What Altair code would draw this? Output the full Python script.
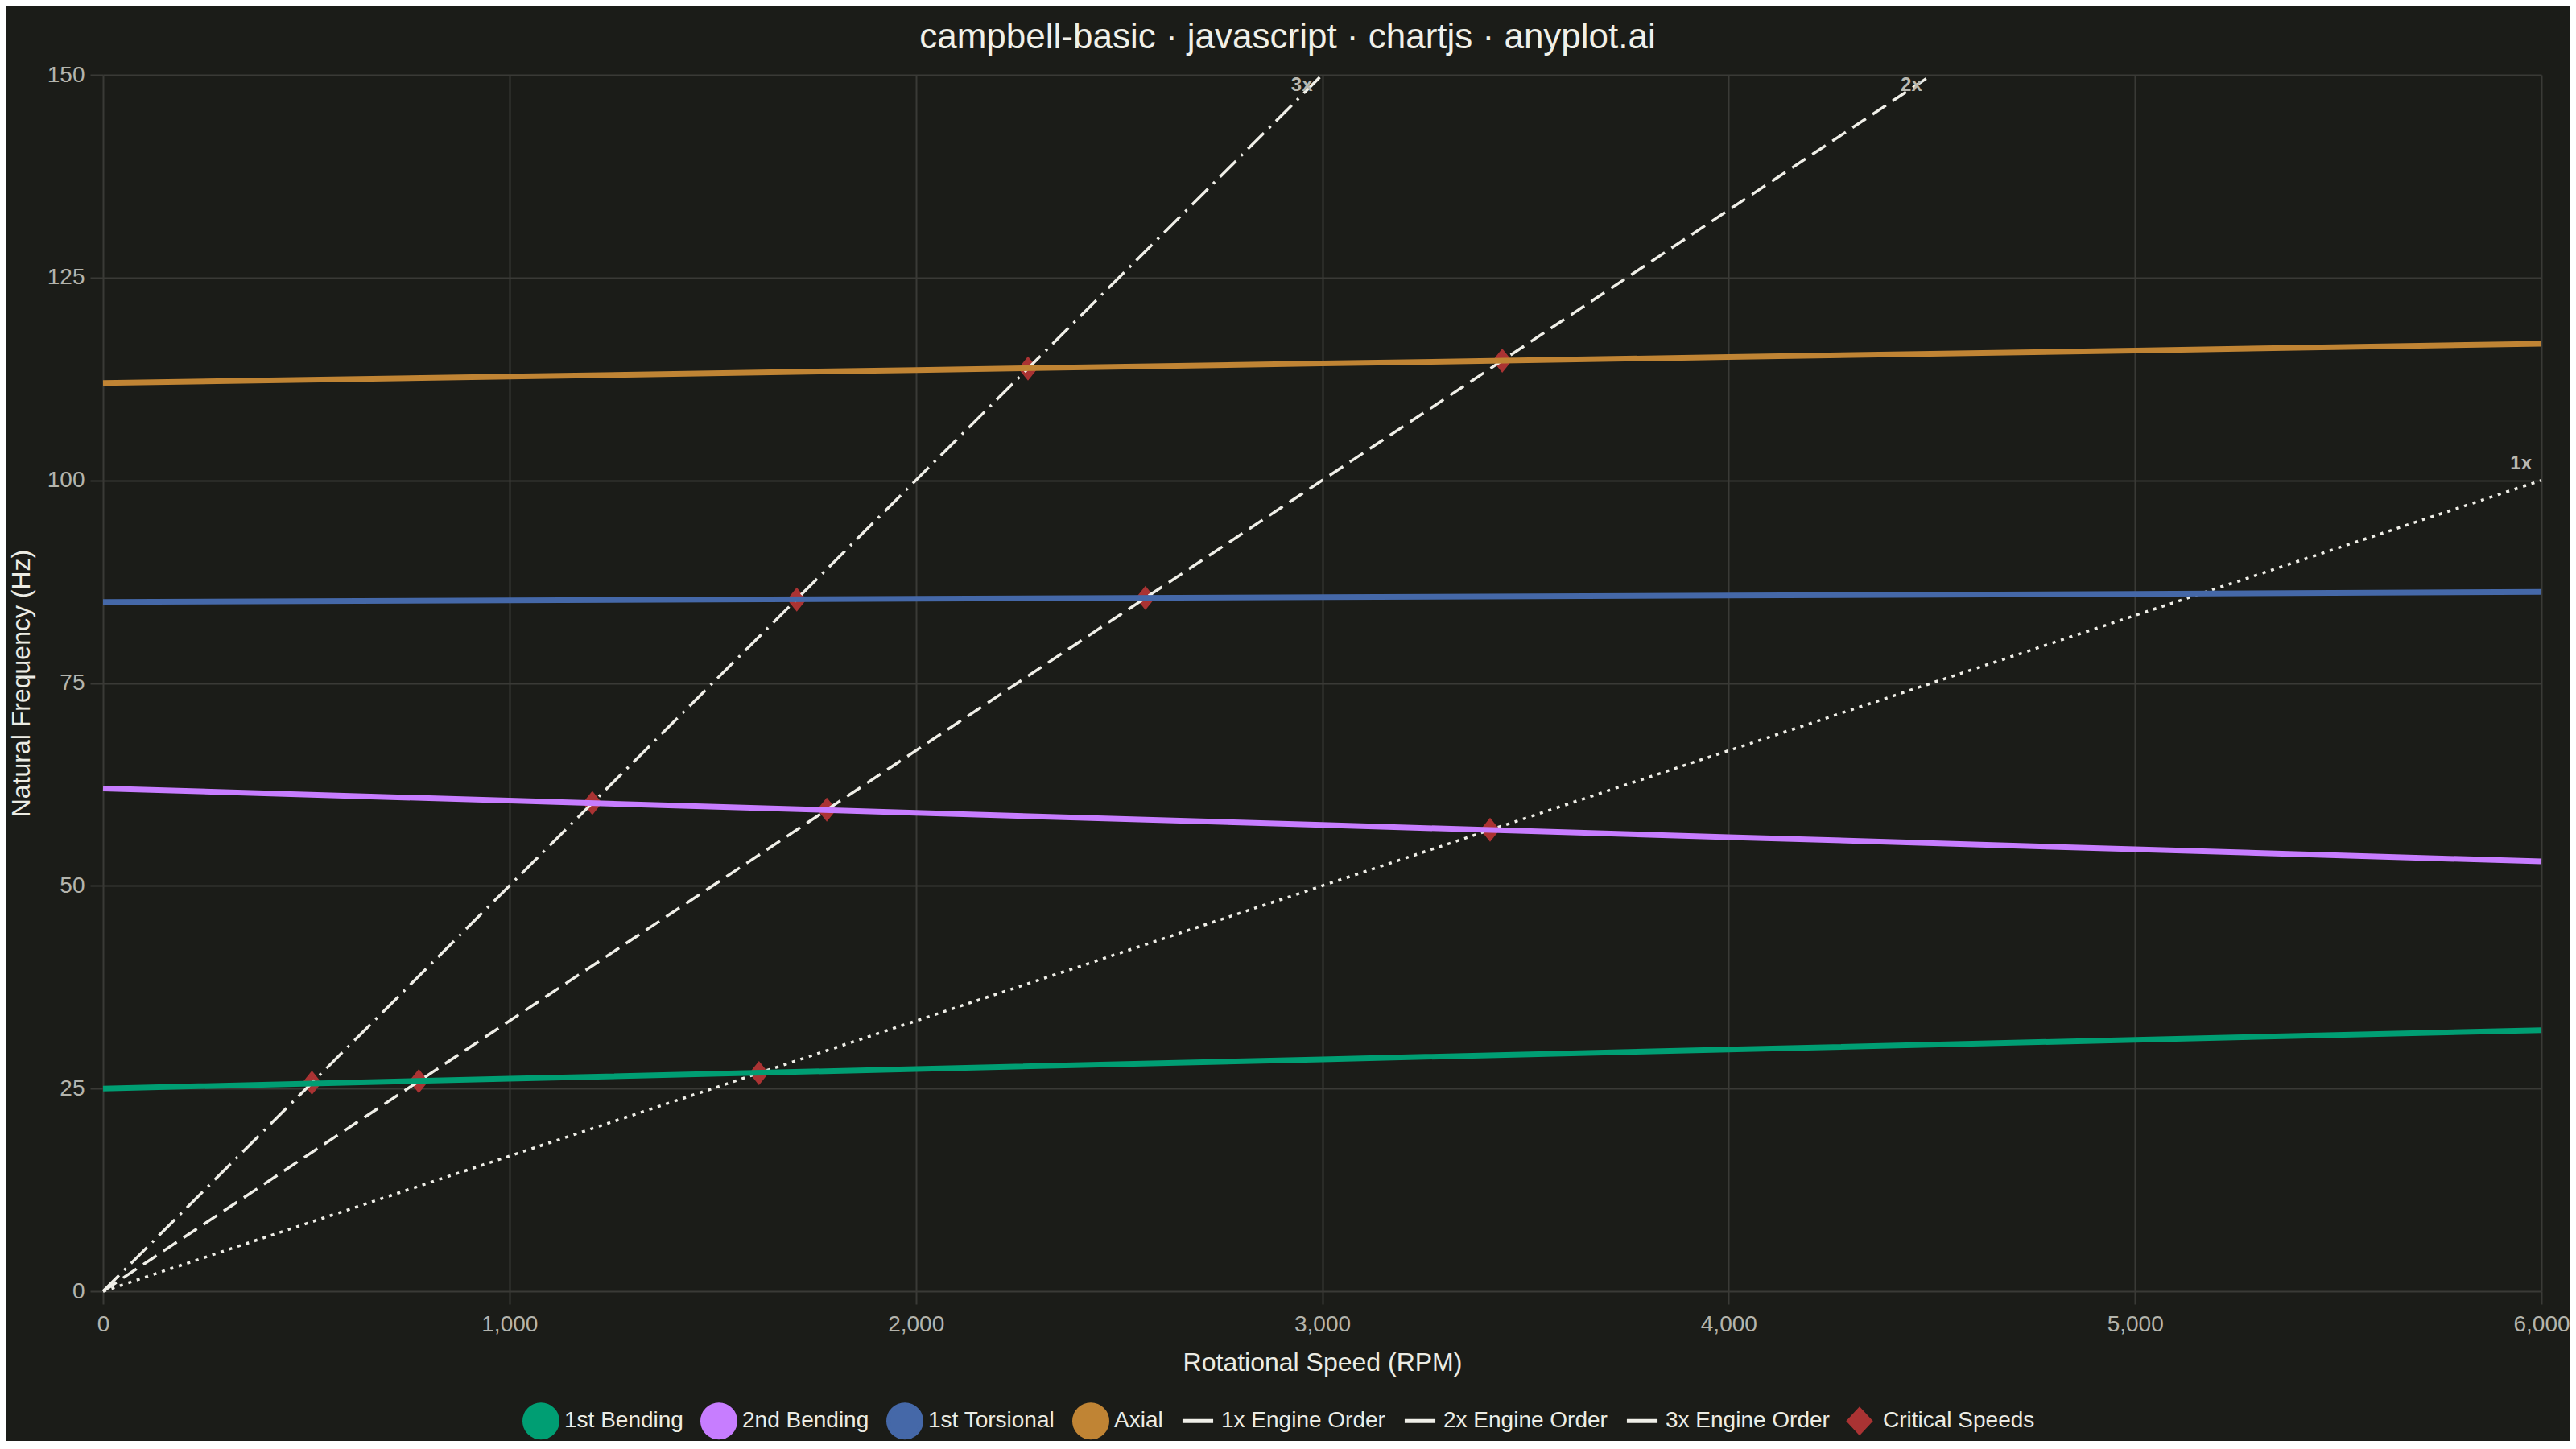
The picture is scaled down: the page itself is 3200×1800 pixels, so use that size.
import altair as alt
import pandas as pd

# ---- data ----
rpm_grid = [0, 1000, 2000, 3000, 4000, 5000, 6000]
bending1 = [25.0, 26.2, 27.4, 28.6, 29.8, 31.0, 32.2]
bending2 = [62.0, 60.5, 59.0, 57.5, 56.0, 54.5, 53.0]
torsional1 = [85.0, 85.2, 85.4, 85.6, 85.8, 86.0, 86.25]
axial = [112.0, 112.8, 113.6, 114.4, 115.2, 116.0, 116.85]

mode_names = ["1st Bending", "2nd Bending", "1st Torsional", "Axial"]
mode_values = [bending1, bending2, torsional1, axial]

order_names = ["1x Engine Order", "2x Engine Order", "3x Engine Order"]
order_tags = ["1x", "2x", "3x"]
order_start_rpm = [0, 0, 0]
order_start_freq = [0, 0, 0]
order_end_rpm = [6000, 4500, 3000]
order_end_freq = [100, 150, 150]

crit_rpm = [514, 777, 1614, 1204, 1781, 3413, 1707, 2565, 2276, 3443]
crit_freq = [25.7, 25.9, 26.9, 60.2, 59.4, 56.9, 85.3, 85.5, 113.8, 114.75]

series_domain = mode_names + order_names + ["Critical Speeds"]
series_colors = ["#009E73", "#C77DFF", "#4568A8", "#C08434",
                 "#F0EFE8", "#F0EFE8", "#F0EFE8", "#AA3333"]

x_ticks = [0, 1000, 2000, 3000, 4000, 5000, 6000]
y_ticks = [0, 25, 50, 75, 100, 125, 150]

TITLE = "campbell-basic · javascript · chartjs · anyplot.ai"

# ---- tables ----
modes_df = pd.DataFrame([
    {"series": name, "rpm": r, "freq": v}
    for name, vals in zip(mode_names, mode_values)
    for r, v in zip(rpm_grid, vals)
])
orders_df = pd.DataFrame(
    [{"series": n, "rpm": a, "freq": b} for n, a, b in zip(order_names, order_start_rpm, order_start_freq)]
    + [{"series": n, "rpm": a, "freq": b} for n, a, b in zip(order_names, order_end_rpm, order_end_freq)]
)
crit_df = pd.DataFrame({"series": "Critical Speeds", "rpm": crit_rpm, "freq": crit_freq})
tags_df = pd.DataFrame({"tag": order_tags, "rpm": order_end_rpm, "freq": order_end_freq})

FONT = "Liberation Sans"
BG = "#1B1C18"
GRID = "#3A3A36"
TICKLBL = "#B4B4AC"
AXTITLE = "#ECECE4"

x_enc = alt.X("rpm:Q",
              scale=alt.Scale(domain=[0, 6000], nice=False, zero=False),
              axis=alt.Axis(values=x_ticks, format=",d", title="Rotational Speed (RPM)",
                            labelFlush=False, labelPadding=11, titleY=98, titleBaseline="alphabetic"))
y_enc = alt.Y("freq:Q",
              scale=alt.Scale(domain=[0, 150], nice=False),
              axis=alt.Axis(values=y_ticks, title="Natural Frequency (Hz)", labelFlush=False,
                            labelPadding=7, titleX=-92, titleBaseline="alphabetic"))

is_eng = "indexof(datum.label, 'Engine') >= 0"
is_crit = "datum.label == 'Critical Speeds'"
shape_expr = (f"{is_eng} ? 'M0,-1M0,1M-0.93,0L0.93,0' : "
              f"({is_crit} ? 'M0,-1M0,1M0,-0.7L0.65,0L0,0.7L-0.65,0Z' : 'circle')")
legend = alt.Legend(
    title=None, orient="none", direction="horizontal",
    legendX=521, legendY=1649,
    labelFontSize=28, labelFont=FONT, labelColor=AXTITLE, labelLimit=0,
    labelOffset=6, columnPadding=13, padding=0,
    symbolSize=1681, symbolStrokeWidth=5, symbolOpacity=1,
    symbolType=alt.ExprRef(shape_expr),
    symbolFillColor=alt.ExprRef("scale('color', datum.value)"),
    symbolStrokeColor=alt.ExprRef("scale('color', datum.value)"),
)
color = alt.Color("series:N", scale=alt.Scale(domain=series_domain, range=series_colors), legend=legend)

crit_layer = alt.Chart(crit_df).mark_point(
    filled=True, shape="M0,-1.25L1,0L0,1.25L-1,0Z", size=576, opacity=1
).encode(x=x_enc, y=y_enc, color=color)

order_layer = alt.Chart(orders_df).mark_line(strokeWidth=3.5).encode(
    x=x_enc, y=y_enc, color=color,
    strokeDash=alt.StrokeDash("series:N",
                              scale=alt.Scale(domain=order_names, range=[[4, 7], [20, 10], [28, 9, 3, 9]]),
                              legend=None),
)

mode_layer = alt.Chart(modes_df).mark_line(strokeWidth=7).encode(
    x=x_enc, y=y_enc, color=color
)

tag_style = dict(font=FONT, fontSize=24, fontWeight="bold", color="#B8B8B0",
                 align="right", baseline="alphabetic", dx=-12)
tags_top = alt.Chart(tags_df).transform_filter("datum.freq >= 150").mark_text(dy=20, **tag_style).encode(
    x="rpm:Q", y="freq:Q", text="tag:N")
tags_side = alt.Chart(tags_df).transform_filter("datum.freq < 150").mark_text(dy=-14, **tag_style).encode(
    x="rpm:Q", y="freq:Q", text="tag:N")

chart = alt.layer(crit_layer, order_layer, mode_layer, tags_top, tags_side).properties(
    width=3029, height=1511,
    padding={"left": 120, "top": 85, "right": 35, "bottom": 186},
    autosize=alt.AutoSizeParams(type="none"),
    background=BG,
    title=alt.TitleParams(TITLE, font=FONT, fontSize=44, fontWeight="normal", color="#F0F0E8",
                          anchor="middle", dx=-43, dy=47, offset=22, baseline="alphabetic"),
).configure_view(stroke=None).configure_axis(
    labelFont=FONT, labelFontSize=28, labelColor=TICKLBL,
    titleFont=FONT, titleFontSize=32, titleColor=AXTITLE, titleFontWeight="normal",
    gridColor=GRID, gridWidth=2, tickColor=GRID, tickWidth=2, tickSize=16,
    domain=False,
)

chart.save("out.html", embed_options={"renderer": "svg", "actions": False})
